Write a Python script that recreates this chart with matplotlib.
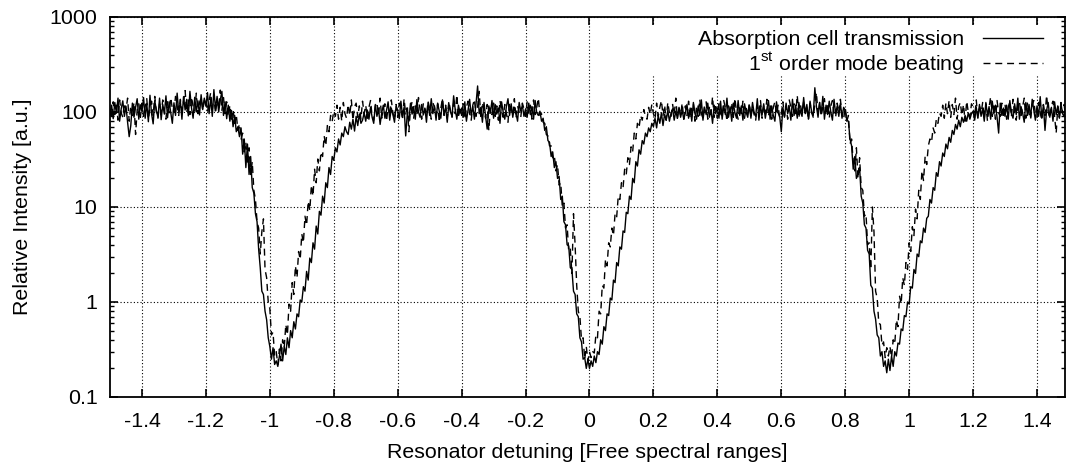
import numpy as np
import matplotlib
matplotlib.use('Agg')
import matplotlib.pyplot as plt
from matplotlib import ticker
from matplotlib.patches import Rectangle

# detuning axis: first sample and spacing (free spectral ranges)
x_start = -1.5
x_step = 0.005

# Absorption cell transmission (20 samples per 0.1 FSR)
absorption = [
    92, 118, 85, 126, 97, 140, 80, 108, 131, 90, 115, 78, 55, 72, 124, 88, 112, 138, 84, 119,
    101, 142, 86, 123, 79, 150, 96, 75, 132, 104, 88, 140, 83, 120, 95, 148, 87, 128, 99, 76,
    125, 92, 158, 99, 130, 84, 145, 105, 136, 91, 165, 110, 86, 143, 100, 131, 93, 152, 106, 140,
    115, 160, 96, 138, 90, 172, 108, 146, 100, 134, 165, 92, 128, 85, 118, 80, 104, 70, 92, 62,
    70, 55, 68, 36, 52, 26, 46, 22, 34, 16, 14, 8.5, 7, 3.6, 2.3, 1.3, 1.2, 0.8, 0.65, 0.42,
    0.34, 0.25, 0.33, 0.22, 0.24, 0.21, 0.27, 0.36, 0.24, 0.34, 0.28, 0.42, 0.33, 0.5, 0.42, 0.62, 0.52, 0.75, 0.7, 1.05,
    1.0, 1.45, 1.3, 2.1, 1.7, 2.9, 2.6, 4.2, 3.6, 6.3, 5.2, 9.0, 8.2, 13, 11, 18, 16, 26, 22, 34,
    31, 42, 38, 52, 45, 60, 55, 70, 62, 58, 78, 66, 84, 63, 90, 72, 95, 76, 82, 98,
    80, 105, 84, 112, 88, 76, 120, 90, 108, 74, 98, 118, 86, 104, 128, 82, 110, 94, 78, 115,
    104, 85, 130, 92, 112, 56, 96, 80, 124, 95, 114, 84, 135, 100, 88, 120, 93, 110, 78, 125,
    92, 138, 96, 116, 82, 124, 102, 86, 134, 94, 112, 78, 122, 100, 90, 148, 106, 84, 118, 97,
    110, 88, 128, 80, 104, 136, 92, 114, 84, 122, 188, 96, 112, 78, 126, 90, 66, 116, 98, 132,
    86, 120, 95, 110, 76, 128, 100, 84, 114, 138, 92, 122, 88, 112, 97, 80, 126, 102, 118, 90,
    108, 88, 124, 94, 114, 84, 132, 98, 92, 102, 80, 86, 64, 70, 50, 48, 34, 38, 26, 30,
    20, 21, 12, 13, 7.0, 6.5, 4.0, 3.9, 2.3, 2.2, 1.3, 1.2, 0.75, 0.7, 0.42, 0.38, 0.25, 0.26, 0.2, 0.25,
    0.2, 0.24, 0.21, 0.27, 0.23, 0.3, 0.28, 0.4, 0.36, 0.55, 0.5, 0.75, 0.72, 1.1, 1.05, 1.7, 1.6, 2.6, 2.4, 3.8,
    3.6, 5.6, 5.4, 8.8, 8.5, 13, 12, 20, 18, 30, 27, 40, 36, 50, 46, 60, 55, 68, 62, 76,
    70, 86, 68, 92, 76, 98, 72, 95, 82, 104, 80, 97, 108, 82, 102, 86, 112, 88, 104, 84,
    98, 120, 86, 110, 80, 126, 96, 84, 116, 92, 134, 82, 112, 94, 124, 88, 106, 76, 118, 96,
    110, 86, 130, 84, 116, 94, 140, 88, 112, 80, 124, 98, 86, 132, 92, 116, 82, 122, 100, 88,
    118, 86, 126, 98, 90, 138, 82, 114, 94, 122, 86, 108, 132, 84, 116, 92, 80, 128, 98, 90,
    62, 112, 88, 124, 96, 114, 82, 136, 92, 118, 86, 126, 100, 90, 142, 96, 120, 84, 130, 100,
    92, 180, 114, 88, 126, 96, 146, 84, 118, 94, 130, 100, 82, 136, 96, 116, 90, 124, 86, 112,
    104, 82, 80, 52, 44, 25, 34, 20, 22, 26, 13, 11, 6.5, 6.0, 3.5, 3.2, 1.5, 1.4, 0.8, 0.66,
    0.45, 0.42, 0.27, 0.3, 0.21, 0.24, 0.18, 0.25, 0.19, 0.27, 0.21, 0.3, 0.27, 0.37, 0.36, 0.52, 0.5, 0.72, 0.7, 1.0,
    0.95, 1.45, 1.4, 2.2, 2.0, 3.2, 3.0, 4.4, 4.2, 6.0, 5.4, 7.6, 8.0, 12, 11, 16, 15, 23, 21, 30,
    27, 37, 34, 46, 41, 54, 48, 64, 58, 74, 66, 82, 70, 88, 78, 92, 80, 98, 84, 96,
    102, 82, 112, 86, 120, 90, 108, 80, 126, 92, 114, 84, 130, 96, 118, 88, 60, 124, 92, 110,
    90, 118, 84, 132, 96, 86, 122, 94, 140, 84, 114, 98, 78, 126, 92, 120, 88, 136, 104, 82,
    116, 90, 145, 86, 118, 64, 104, 126, 88, 112, 80, 128, 94, 116, 86, 122, 96, 90, 114, 88,
]

# 1st order mode beating, same sampling
mode_beating = [
    108, 86, 128, 94, 118, 82, 134, 98, 88, 124, 104, 140, 80, 116, 92, 126, 58, 106, 122, 88,
    124, 90, 114, 138, 84, 110, 130, 92, 146, 100, 86, 122, 94, 134, 104, 84, 128, 98, 142, 108,
    100, 146, 116, 92, 136, 104, 128, 168, 98, 134, 94, 144, 114, 102, 158, 96, 126, 140, 104, 132,
    140, 100, 132, 160, 106, 148, 96, 136, 110, 170, 104, 142, 96, 128, 90, 118, 82, 106, 76, 94,
    64, 75, 52, 60, 38, 48, 28, 42, 22, 30, 15, 12, 7, 6.0, 3.2, 5.5, 7.5, 2.2, 1.8, 1.0,
    0.85, 0.45, 0.48, 0.27, 0.3, 0.22, 0.32, 0.24, 0.4, 0.33, 0.58, 0.45, 0.95, 0.8, 1.6, 1.2, 2.4, 1.8, 3.4, 2.8,
    5.2, 4.2, 8.0, 6.4, 11.5, 9.2, 17, 13, 25, 18, 32, 24, 38, 34, 56, 44, 72, 62, 92, 80,
    102, 90, 118, 84, 112, 80, 126, 96, 86, 120, 92, 134, 82, 114, 124, 88, 116, 84, 130, 96,
    118, 86, 112, 132, 90, 82, 116, 126, 92, 140, 86, 110, 122, 80, 114, 92, 134, 98, 84, 120,
    88, 124, 110, 82, 138, 94, 118, 62, 108, 128, 86, 116, 92, 142, 106, 84, 122, 110, 90, 130,
    108, 84, 126, 112, 90, 122, 78, 110, 138, 92, 118, 86, 130, 104, 88, 124, 96, 152, 86, 114,
    92, 122, 84, 112, 130, 96, 82, 118, 136, 90, 114, 165, 88, 126, 104, 86, 120, 64, 110, 94,
    124, 90, 116, 82, 132, 104, 88, 120, 96, 78, 126, 110, 92, 138, 86, 116, 100, 88, 124, 108,
    90, 128, 96, 118, 84, 134, 94, 112, 140, 92, 96, 78, 76, 58, 56, 44, 44, 33, 35, 24,
    28, 17, 18, 10, 11, 6, 6.5, 3.4, 3.6, 2.0, 8.5, 4.0, 1.5, 0.8, 0.7, 0.4, 0.42, 0.25, 0.34, 0.24,
    0.3, 0.26, 0.3, 0.29, 0.45, 0.42, 0.8, 0.75, 1.5, 1.4, 2.8, 2.4, 4.2, 3.8, 6.0, 5.0, 8.5, 7.8, 13, 12,
    18, 16, 25, 22, 33, 28, 43, 38, 60, 52, 76, 68, 92, 82, 106, 90, 84, 112, 94, 120,
    96, 84, 124, 90, 112, 132, 92, 118, 82, 126, 98, 88, 120, 94, 140, 86, 112, 92, 124, 84,
    116, 92, 130, 86, 110, 122, 80, 114, 90, 136, 96, 86, 118, 128, 84, 112, 94, 145, 88, 114,
    86, 122, 96, 90, 132, 110, 80, 116, 94, 126, 88, 140, 98, 84, 118, 96, 130, 86, 112, 92,
    124, 88, 114, 94, 82, 118, 98, 132, 86, 116, 96, 136, 90, 120, 84, 112, 128, 94, 118, 86,
    96, 128, 90, 116, 84, 134, 112, 90, 122, 96, 150, 86, 118, 98, 130, 92, 116, 82, 124, 98,
    88, 120, 160, 94, 126, 90, 114, 138, 92, 122, 86, 116, 132, 96, 88, 124, 98, 136, 92, 84,
    112, 80, 92, 46, 52, 30, 24, 42, 20, 33, 16, 15, 8, 8.5, 4.0, 4.2, 2.2, 10, 5.5, 1.3,
    1.1, 0.6, 0.58, 0.35, 0.38, 0.26, 0.33, 0.27, 0.34, 0.26, 0.4, 0.36, 0.65, 0.55, 1.15, 0.95, 1.8, 1.5, 2.6, 2.2,
    4.2, 3.4, 6.2, 5.0, 9.5, 7.5, 15, 12, 24, 19, 34, 28, 44, 52, 48, 68, 60, 84, 76, 98,
    90, 118, 86, 124, 96, 132, 88, 120, 94, 140, 84, 114, 126, 92, 120, 80, 130, 100, 88, 122,
    114, 88, 134, 84, 118, 96, 126, 86, 122, 80, 112, 145, 90, 116, 84, 132, 98, 90, 124, 86,
    120, 84, 112, 128, 90, 136, 96, 82, 118, 130, 92, 114, 140, 86, 124, 96, 84, 118, 132, 94,
    88, 126, 98, 82, 120, 92, 150, 100, 86, 118, 130, 90, 60, 114, 88, 126, 96, 120, 84, 112,
]

x_ticks = [-1.4, -1.2, -1.0, -0.8, -0.6, -0.4, -0.2, 0.0, 0.2, 0.4, 0.6, 0.8, 1.0, 1.2, 1.4]
y_ticks = [0.1, 1, 10, 100, 1000]

x = x_start + x_step * np.arange(len(absorption))
x2 = x_start + x_step * np.arange(len(mode_beating))

plt.rcParams['font.family'] = ['Liberation Sans', 'DejaVu Sans']
plt.rcParams['mathtext.fontset'] = 'custom'
plt.rcParams['mathtext.rm'] = 'Liberation Sans'
plt.rcParams['font.size'] = 15.4

fig = plt.figure(figsize=(10.67, 4.67), dpi=100)
ax = fig.add_axes([0.1031, 0.1499, 0.895, 0.8137])

ax.plot(x, absorption, color='black', lw=1.0, label='Absorption cell transmission')
ax.plot(x2, mode_beating, color='black', lw=1.0, dashes=(5, 3.5),
        label=r'1$^{\mathrm{st}}$ order mode beating')

ax.set_yscale('log')
ax.set_xlim(-1.5, 1.4875)
ax.set_ylim(0.1, 1000)
ax.set_xticks(x_ticks)
ax.set_yticks(y_ticks)
fmt = ticker.FuncFormatter(lambda v, p: '%g' % v)
ax.xaxis.set_major_formatter(fmt)
ax.yaxis.set_major_formatter(fmt)
ax.yaxis.set_minor_locator(ticker.LogLocator(base=10, subs=np.arange(2, 10)))
ax.yaxis.set_minor_formatter(ticker.NullFormatter())

ax.grid(True, which='major', color='black', linestyle=(0, (1, 2)), linewidth=0.8)
ax.tick_params(which='both', direction='in', top=True, right=True)
ax.tick_params(which='major', length=6, width=1.2)
ax.tick_params(which='minor', length=3, width=1.0)
ax.tick_params(axis='x', pad=10.5)
ax.tick_params(axis='y', pad=9)
for s in ax.spines.values():
    s.set_linewidth(1.3)

# key background hides the grid like gnuplot does
ax.add_patch(Rectangle((0.539, 0.847), 0.455, 0.129, transform=ax.transAxes,
                       facecolor='white', edgecolor='none', zorder=1.8))
ax.legend(loc='upper right', bbox_to_anchor=(0.977, 0.965), frameon=False,
          markerfirst=False, handlelength=2.8, handletextpad=0.9,
          labelspacing=0.05, borderpad=0, borderaxespad=0)

ax.set_xlabel('Resonator detuning [Free spectral ranges]', labelpad=9)
ax.set_ylabel('Relative Intensity [a.u.]', labelpad=13)

fig.savefig('out.png', dpi=100)
